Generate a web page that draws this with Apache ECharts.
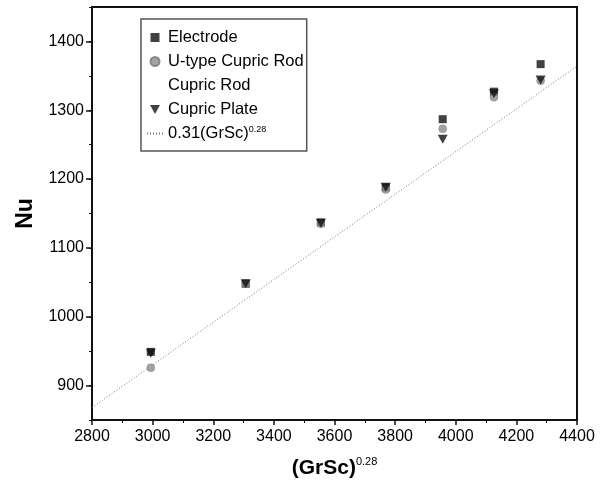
<!DOCTYPE html>
<html>
<head>
<meta charset="utf-8">
<script src="https://cdn.jsdelivr.net/npm/echarts@6/dist/echarts.min.js"></script>
<style>
  html, body { margin: 0; padding: 0; background: #fff; }
  #chart { width: 601px; height: 494px; }
</style>
</head>
<body>
<div id="chart"></div>
<script>
// valores
const grsc = [2994, 3307, 3555, 3769, 3957, 4126, 4280];
const electrode = [949, 1048, 1137, 1188, 1287, 1327, 1367];
const uTypeRod = [926, 1048, 1135, 1185, 1273, 1319, 1343];
const cupricRod = [];
const cupricPlate = [947, 1048, 1136, 1188, 1258, 1324, 1344];
const fitX = [2800, 4400];
const fitY = [868, 1364];
const yTicks = [900, 1000, 1100, 1200, 1300, 1400];

const pairs = (xs, ys) => ys.map((y, i) => [xs[i], y]);
const font = 'Liberation Sans, Arial, sans-serif';
const squarePath = 'path://M0,0h8v8h-8z';
const triDownPath = 'path://M0,0L10,0L5,9Z';

const chart = echarts.init(document.getElementById('chart'), null, { renderer: 'canvas' });

chart.setOption({
  animation: false,
  backgroundColor: '#fff',
  textStyle: { fontFamily: font },
  grid: {
    left: 92, right: 24, top: 7, bottom: 74,
    show: true, borderColor: '#111', borderWidth: 2
  },
  legend: {
    orient: 'vertical',
    left: 141, top: 19,
    padding: [10, 3, 9, 5],
    borderColor: '#555', borderWidth: 1.5,
    itemWidth: 16, itemHeight: 9, itemGap: 7,
    textStyle: {
      fontFamily: font, fontSize: 16.5, color: '#000', lineHeight: 16,
      rich: {
        t: { fontSize: 16.5, fontFamily: font, color: '#000', lineHeight: 17 },
        s: { fontSize: 9, fontFamily: font, color: '#000', verticalAlign: 'top' }
      }
    },
    formatter: name => name === '0.31(GrSc)^0.28' ? '{t|0.31(GrSc)}{s|0.28}' : name,
    data: [
      { name: 'Electrode', icon: squarePath },
      { name: 'U-type Cupric Rod', icon: 'circle' },
      { name: 'Cupric Rod', icon: 'circle', itemStyle: { color: 'rgba(0,0,0,0)', borderWidth: 0 } },
      { name: 'Cupric Plate', icon: triDownPath },
      { name: '0.31(GrSc)^0.28', itemStyle: { color: 'rgba(0,0,0,0)', borderWidth: 0 } }
    ]
  },
  xAxis: {
    type: 'value',
    min: 2800, max: 4400, interval: 200,
    name: '{b|(GrSc)}{s|0.28}',
    nameLocation: 'middle', nameGap: 36,
    nameTextStyle: {
      rich: {
        b: { fontSize: 21, fontWeight: 'bold', fontFamily: font, color: '#000', lineHeight: 24 },
        s: { fontSize: 11, fontFamily: font, color: '#000', verticalAlign: 'top' }
      }
    },
    axisLine: { lineStyle: { color: '#111', width: 2 } },
    axisTick: { inside: false, length: 5, lineStyle: { color: '#111', width: 1.5 } },
    minorTick: { show: true, splitNumber: 2, length: 3, lineStyle: { color: '#111', width: 1 } },
    axisLabel: { fontSize: 16, color: '#000', margin: 9, fontFamily: font, formatter: v => String(v) },
    splitLine: { show: false }
  },
  yAxis: [{
    type: 'value',
    min: 850, max: 1450, interval: 50,
    name: 'Nu',
    nameLocation: 'middle', nameGap: 49,
    nameTextStyle: { fontSize: 23, fontWeight: 'bold', color: '#000', fontFamily: font },
    axisLine: { lineStyle: { color: '#111', width: 2 } },
    axisTick: { length: 3, lineStyle: { color: '#111', width: 1 } },
    axisLabel: {
      fontSize: 16, color: '#000', margin: 8, fontFamily: font,
      formatter: v => (v % 100 === 0 && v >= 900 && v <= 1400) ? String(v) : ''
    },
    splitLine: { show: false }
  }, {
    type: 'value',
    min: 850, max: 1450, interval: 50,
    position: 'left',
    axisLine: { show: false },
    axisTick: { show: true, length: 6, customValues: yTicks, lineStyle: { color: '#111', width: 1.5 } },
    axisLabel: { show: false },
    splitLine: { show: false }
  }],
  series: [
    {
      name: '0.31(GrSc)^0.28',
      type: 'line',
      data: pairs(fitX, fitY),
      symbol: 'none',
      z: 1,
      lineStyle: { color: '#777', width: 1, type: [1, 2] },
      itemStyle: { color: '#777' }
    },
    {
      name: 'Electrode',
      type: 'scatter',
      data: pairs(grsc, electrode),
      symbol: 'rect', symbolSize: 8,
      itemStyle: { color: '#111' }
    },
    {
      name: 'U-type Cupric Rod',
      type: 'scatter',
      data: pairs(grsc, uTypeRod),
      symbol: 'circle', symbolSize: 8,
      itemStyle: { color: '#8c8c8c', borderColor: '#777', borderWidth: 0.5 }
    },
    {
      name: 'Cupric Rod',
      type: 'scatter',
      data: pairs(grsc, cupricRod),
      symbol: 'circle', symbolSize: 8,
      itemStyle: { color: 'rgba(0,0,0,0)' }
    },
    {
      name: 'Cupric Plate',
      type: 'scatter',
      data: pairs(grsc, cupricPlate),
      symbol: 'triangle', symbolSize: [10, 9], symbolRotate: 180,
      itemStyle: { color: '#111' }
    }
  ]
});
</script>
</body>
</html>
